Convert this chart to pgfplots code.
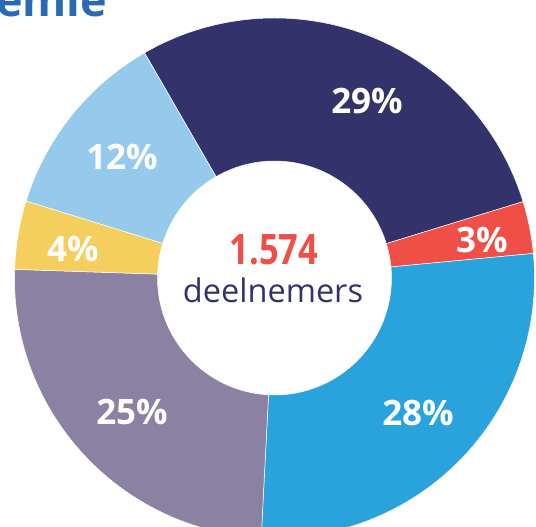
\documentclass[border=0pt]{standalone}
\usepackage{pgfplots}
\pgfplotsset{compat=1.18}
\usepackage{pgfplotstable}
\usepackage{fontspec}
\setmainfont{Open Sans}
\definecolor{col0}{HTML}{34326B}
\definecolor{col1}{HTML}{EF4F46}
\definecolor{col2}{HTML}{2AA3DC}
\definecolor{col3}{HTML}{8B82A3}
\definecolor{col4}{HTML}{F5CF5E}
\definecolor{col5}{HTML}{96CAEC}
\definecolor{titleblue}{HTML}{2A6AB4}
\pgfplotstableread{
count lx ly label
450 367 426 29
51 482 287 3
430 418 114 28
389 132 115 25
67 73 278 4
187 122 370 12
}\donut
\xdef\cum{0}
\foreach \i in {0,...,5}{%
  \pgfplotstablegetelem{\i}{count}\of\donut
  \pgfmathsetmacro\a{120-\cum/1574*360}%
  \pgfmathsetmacro\newcum{\cum+\pgfplotsretval}%
  \pgfmathsetmacro\b{120-\newcum/1574*360}%
  \expandafter\xdef\csname sa\i\endcsname{\a}%
  \expandafter\xdef\csname ea\i\endcsname{\b}%
  \xdef\cum{\newcum}%
}
\begin{document}
\begin{tikzpicture}
\useasboundingbox (0,0) rectangle (536pt,527pt);
\clip (0,0) rectangle (536pt,527pt);
\begin{axis}[
  x=1pt, y=1pt, xmin=0, xmax=536, ymin=0, ymax=527,
  disabledatascaling, hide axis, clip=false,
]
\pgfplotsinvokeforeach{0,...,5}{
  \fill[col#1, draw=white, line width=0.5pt, line join=round]
    (axis cs:274.5,249) ++(\csname sa#1\endcsname:260pt)
    arc[start angle=\csname sa#1\endcsname, end angle=\csname ea#1\endcsname, radius=260pt]
    -- ++(\csname ea#1\endcsname:-143pt)
    arc[start angle=\csname ea#1\endcsname, end angle=\csname sa#1\endcsname, radius=117pt]
    -- cycle;
}
\addplot[only marks, mark=none, point meta=explicit symbolic,
  nodes near coords={\pgfplotspointmeta\%},
  every node near coord/.append style={anchor=center, text=white,
    font=\fontsize{35}{40}\selectfont\bfseries, inner sep=0pt}]
  table[x=lx, y=ly, meta=label] {\donut};
\node[anchor=center, text=col1, font=\fontsize{42}{46}\selectfont\bfseries, inner sep=0pt]
  at (axis cs:274,277.5) {\scalebox{0.82}[1]{1.574}};
\node[anchor=base, text=col0, font=\fontsize{32.5}{36}\selectfont, inner sep=0pt]
  at (axis cs:273,224) {deelnemers};
\node[anchor=base west, text=titleblue, font=\fontsize{45}{48}\selectfont\bfseries, inner sep=0pt]
  at (axis cs:-4,510) {emie};
\end{axis}
\end{tikzpicture}
\end{document}
